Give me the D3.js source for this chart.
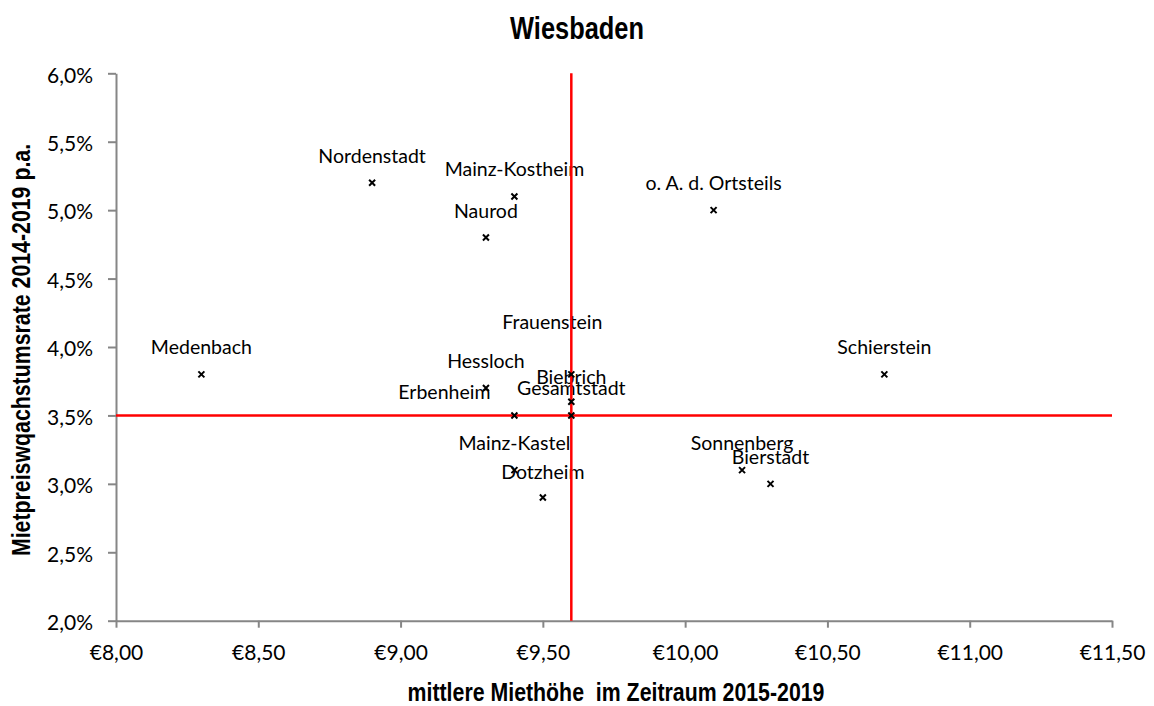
<!DOCTYPE html>
<html lang="de">
<head>
<meta charset="utf-8">
<title>Wiesbaden</title>
<script src="https://cdn.jsdelivr.net/npm/d3@7"></script>
<style>
  html, body { margin: 0; padding: 0; background: #fff; }
  svg { display: block; }
  .title, .axis-title { font-family: "Liberation Sans Narrow", "Arial Narrow", "Liberation Sans", sans-serif; font-weight: bold; fill: #000; white-space: pre; }
  .tick text { font-family: Lato, "Open Sans", sans-serif; font-size: 21px; fill: #000; }
  .pt-label { font-family: Lato, "Open Sans", sans-serif; font-size: 19.5px; fill: #000; }
</style>
</head>
<body>
<svg id="chart" width="1154" height="706"></svg>
<script>
// Ortsbezirke: mittlere Miete (€/m²) und jährliche Wachstumsrate der Mietpreise
const districts = ["Nordenstadt", "Mainz-Kostheim", "Naurod", "o. A. d. Ortsteils", "Medenbach",
  "Schierstein", "Frauenstein", "Hessloch", "Biebrich", "Gesamtstadt", "Erbenheim",
  "Mainz-Kastel", "Dotzheim", "Sonnenberg", "Bierstadt"];
const meanRent = [8.9, 9.4, 9.3, 10.1, 8.3, 10.7, 9.6, 9.3, 9.6, 9.6, 9.4, 9.4, 9.5, 10.2, 10.3];
const growthRate = [0.052, 0.051, 0.048, 0.050, 0.038, 0.038, 0.038, 0.037, 0.036, 0.035, 0.035, 0.031, 0.029, 0.031, 0.030];

const xTicks = [8.0, 8.5, 9.0, 9.5, 10.0, 10.5, 11.0, 11.5];
const yTicks = [0.020, 0.025, 0.030, 0.035, 0.040, 0.045, 0.050, 0.055, 0.060];

// Reference lines go through the city-wide value
const refName = "Gesamtstadt";

// Label nudges (px) where labels would collide; default sits centred above the marker
const labelShift = {
  "Frauenstein": [-19, -25],
  "Erbenheim": [-70, 4],
  "Biebrich": [0, 2],
  "Dotzheim": [0, 1]
};

// Condensed look for the headings (narrow face emulated by horizontal squeeze)
const narrow = 0.82;

const de = d3.formatLocale({ decimal: ",", thousands: ".", grouping: [3], currency: ["€", ""] });
const fmtX = v => "€" + de.format(".2f")(v);
const fmtY = de.format(".1%");

const svg = d3.select("#chart");
const x = d3.scaleLinear().domain([8, 11.5]).range([116, 1112]);
const y = d3.scaleLinear().domain([0.02, 0.06]).range([620.7, 73.3]);

const data = districts.map((name, i) => ({ name, rent: meanRent[i], growth: growthRate[i] }));
const ref = data.find(d => d.name === refName);

// Title
svg.append("text").attr("class", "title")
  .attr("transform", `translate(577,39) scale(${narrow},1)`).attr("text-anchor", "middle")
  .style("font-size", "31px").text("Wiesbaden");

// Axes
const axisColor = "#868686";
const gx = svg.append("g").attr("transform", `translate(0,${y(0.02)})`)
  .call(d3.axisBottom(x).tickValues(xTicks).tickFormat(fmtX).tickSize(7).tickSizeOuter(0).tickPadding(17));
const gy = svg.append("g").attr("transform", `translate(${x(8)},0)`)
  .call(d3.axisLeft(y).tickValues(yTicks).tickFormat(fmtY).tickSize(8).tickSizeOuter(0).tickPadding(15));
[gx, gy].forEach(g => {
  g.select(".domain").attr("stroke", axisColor).attr("stroke-width", 2);
  g.selectAll(".tick line").attr("stroke", axisColor).attr("stroke-width", 2);
});
gy.selectAll(".tick text").attr("dy", "0.42em");

// Axis titles
svg.append("text").attr("class", "axis-title")
  .attr("transform", `translate(616,701) scale(${narrow},1)`).attr("text-anchor", "middle")
  .style("font-size", "26px").text("mittlere Miethöhe  im Zeitraum 2015-2019");
svg.append("text").attr("class", "axis-title")
  .attr("transform", `translate(30,350) rotate(-90) scale(${narrow},1)`).attr("text-anchor", "middle")
  .style("font-size", "26px").text("Mietpreiswqachstumsrate 2014-2019 p.a.");

// Point labels
svg.append("g").selectAll("text").data(data).join("text")
  .attr("class", "pt-label")
  .attr("text-anchor", "middle")
  .attr("x", d => x(d.rent) + (labelShift[d.name] ? labelShift[d.name][0] : 0))
  .attr("y", d => y(d.growth) - 20 + (labelShift[d.name] ? labelShift[d.name][1] : 0))
  .text(d => d.name);

// Red reference lines
const refG = svg.append("g").attr("stroke", "#ff0000").attr("stroke-width", 2.5);
refG.append("line")
  .attr("x1", x(ref.rent)).attr("x2", x(ref.rent))
  .attr("y1", y(0.06)).attr("y2", y(0.02));
refG.append("line")
  .attr("x1", x(8)).attr("x2", x(11.5))
  .attr("y1", y(ref.growth)).attr("y2", y(ref.growth));

// Markers (small x)
svg.append("g").selectAll("path").data(data).join("path")
  .attr("transform", d => `translate(${x(d.rent)},${y(d.growth)})`)
  .attr("d", "M-3,-3L3,3M-3,3L3,-3")
  .attr("stroke", "#000").attr("stroke-width", 2).attr("fill", "none");
</script>
</body>
</html>
